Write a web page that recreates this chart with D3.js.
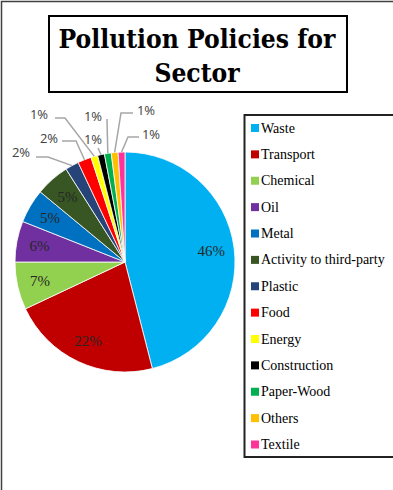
<!DOCTYPE html>
<html>
<head>
<meta charset="utf-8">
<script src="https://cdn.jsdelivr.net/npm/d3@7"></script>
<style>
  html, body { margin: 0; padding: 0; background: #fff; }
  svg { display: block; }
</style>
</head>
<body>
<svg id="chart" width="393" height="490"></svg>
<script>
// Sector shares of pollution policies (percent)
const sectors = ["Waste", "Transport", "Chemical", "Oil", "Metal", "Activity to third-party",
  "Plastic", "Food", "Energy", "Construction", "Paper-Wood", "Others", "Textile"];
const shares = [46, 22, 7, 6, 5, 5, 2, 2, 1, 1, 1, 1, 1];
const sectorColors = ["#00B0F0", "#C00000", "#92D050", "#7030A0", "#0070C0", "#375623",
  "#264478", "#FF0000", "#FFFF00", "#000000", "#00B050", "#FFC000", "#FF3399"];

// Small slices get their labels outside the pie with leader lines:
// text centre, leader start, and leader elbow.
const outerLabelLayout = {
  "Plastic":      { tx: 21,  ty: 152, sx: 36,  sy: 157, ex: 48,  ey: 157 },
  "Food":         { tx: 49,  ty: 138, sx: 62,  sy: 141, ex: 76,  ey: 141 },
  "Energy":       { tx: 39,  ty: 114, sx: 55,  sy: 118, ex: 65,  ey: 118 },
  "Construction": { tx: 93,  ty: 139, sx: 98,  sy: 148, ex: 98,  ey: 148 },
  "Paper-Wood":   { tx: 93,  ty: 116, sx: 107, sy: 119, ex: 107, ey: 119 },
  "Others":       { tx: 146, ty: 110, sx: 133, sy: 113, ex: 121, ey: 113 },
  "Textile":      { tx: 151, ty: 134, sx: 139, sy: 137, ex: 128, ey: 137 }
};

const data = sectors.map((s, i) => ({ sector: s, value: shares[i], color: sectorColors[i] }));
const svg = d3.select("#chart");
const W = 393, H = 490;
const serif = "'DejaVu Serif Condensed', 'Liberation Serif', serif";

// Outer chart frame
svg.append("rect")
  .attr("x", 1.5).attr("y", 1.5)
  .attr("width", W + 10).attr("height", H + 10)
  .attr("fill", "none").attr("stroke", "#404040").attr("stroke-width", 1.5);

// Title box
svg.append("rect")
  .attr("x", 49).attr("y", 16).attr("width", 298).attr("height", 76)
  .attr("fill", "#fff").attr("stroke", "#000").attr("stroke-width", 2);
const title = svg.append("text")
  .attr("text-anchor", "middle")
  .attr("font-family", serif)
  .attr("font-weight", "bold").attr("font-size", 25).attr("fill", "#000");
const t1 = title.append("tspan").attr("x", 197).attr("y", 48).text("Pollution Policies for");
title.append("tspan").attr("x", 197).attr("y", 82).text("Sector");
// fit the first title line to the box width
const tw = t1.node().getComputedTextLength();
title.attr("font-size", 25 * 277 / tw);

// Pie
const cx = 125, cy = 262, R = 110;
const pie = d3.pie().value(d => d.value).sort(null);
const arcs = pie(data);
const arc = d3.arc().innerRadius(0).outerRadius(R);
const labelArc = d3.arc().innerRadius(87).outerRadius(87);

const g = svg.append("g").attr("transform", `translate(${cx},${cy})`);
g.selectAll("path.slice").data(arcs).join("path")
  .attr("class", "slice")
  .attr("d", arc)
  .attr("fill", d => d.data.color)
  .attr("stroke", "#fff").attr("stroke-width", 0.8);

// Labels inside the larger slices
g.selectAll("text.inner").data(arcs.filter(d => !outerLabelLayout[d.data.sector])).join("text")
  .attr("class", "inner")
  .attr("transform", d => `translate(${labelArc.centroid(d)})`)
  .attr("text-anchor", "middle").attr("dominant-baseline", "central")
  .attr("font-family", "'Liberation Serif', serif").attr("font-size", 15)
  .attr("fill", "#262626")
  .text(d => d.value + "%");

// Leader lines and labels for the small slices
const edgeArc = d3.arc().innerRadius(R).outerRadius(R);
const small = arcs.filter(d => outerLabelLayout[d.data.sector]);
svg.selectAll("path.leader").data(small).join("path")
  .attr("class", "leader")
  .attr("d", d => {
    const L = outerLabelLayout[d.data.sector];
    const [px, py] = edgeArc.centroid(d);
    return `M${L.sx},${L.sy}L${L.ex},${L.ey}L${cx + px},${cy + py}`;
  })
  .attr("fill", "none").attr("stroke", "#A6A6A6").attr("stroke-width", 1.5);
svg.selectAll("text.outer").data(small).join("text")
  .attr("class", "outer")
  .attr("x", d => outerLabelLayout[d.data.sector].tx)
  .attr("y", d => outerLabelLayout[d.data.sector].ty)
  .attr("text-anchor", "middle").attr("dominant-baseline", "central")
  .attr("font-family", "'Open Sans', sans-serif").attr("font-size", 13)
  .attr("fill", "#404040")
  .text(d => d.value + "%");

// Legend
svg.append("rect")
  .attr("x", 244.5).attr("y", 115).attr("width", 160).attr("height", 342)
  .attr("fill", "#fff").attr("stroke", "#222").attr("stroke-width", 2);
const ly = d3.scalePoint().domain(sectors).range([128, 444.5]);
const leg = svg.selectAll("g.legend").data(data).join("g")
  .attr("class", "legend")
  .attr("transform", d => `translate(251,${ly(d.sector)})`);
leg.append("rect").attr("x", 0).attr("y", -4).attr("width", 8).attr("height", 8)
  .attr("fill", d => d.color);
leg.append("text").attr("x", 10).attr("y", 0)
  .attr("dominant-baseline", "central")
  .attr("font-family", "'Liberation Serif', serif").attr("font-size", 14)
  .attr("fill", "#000")
  .text(d => d.sector);
</script>
</body>
</html>
